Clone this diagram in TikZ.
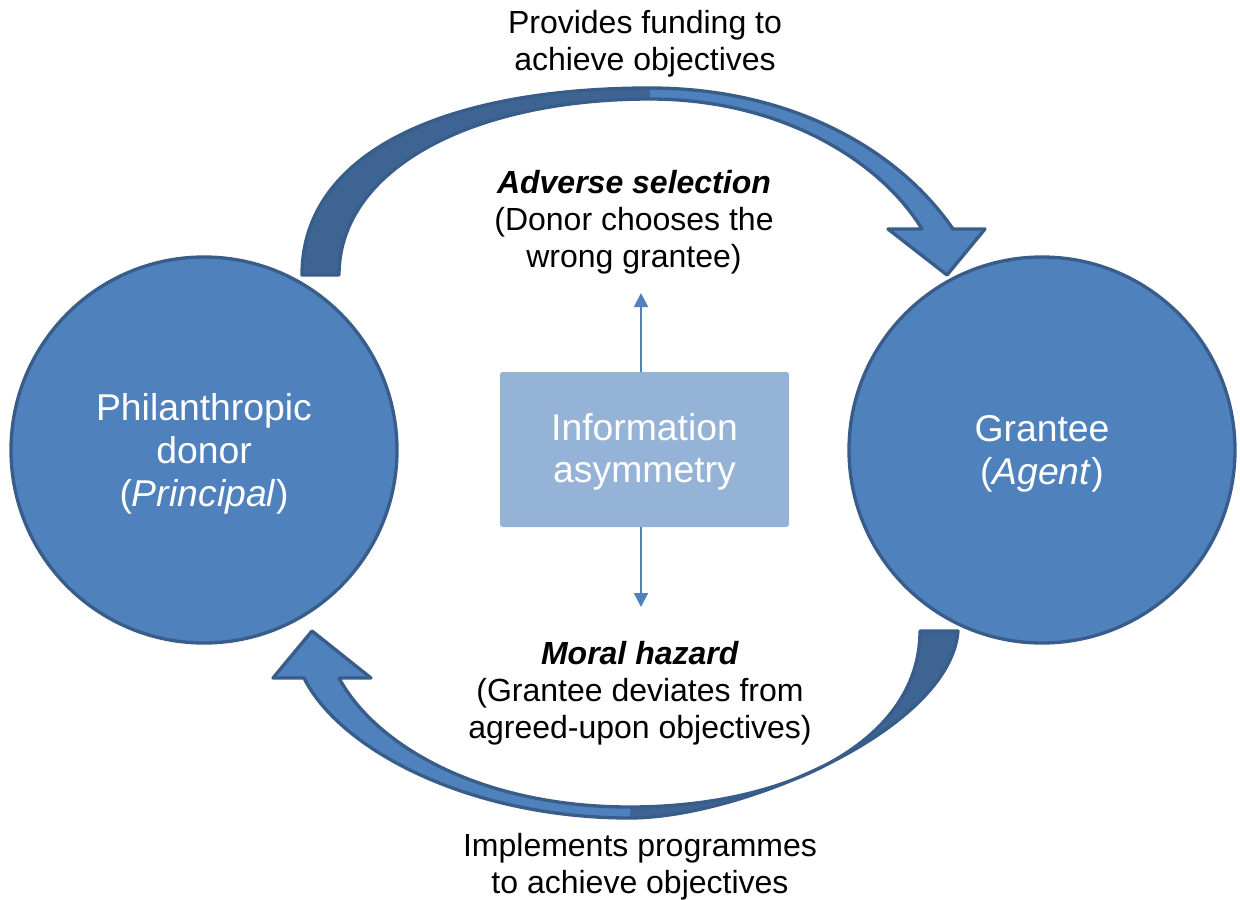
\documentclass[tikz,border=0pt]{standalone}
\usepackage{fontspec}
\setmainfont{Liberation Sans}
\usetikzlibrary{arrows.meta}

\definecolor{circfill}{HTML}{4F81BD}
\definecolor{circline}{HTML}{385D8A}
\definecolor{shadefill}{HTML}{3E6494}
\definecolor{boxfill}{HTML}{95B3D7}

\begin{document}
\begin{tikzpicture}[x=0.75pt,y=0.75pt,yscale=-1,xscale=1,
    party/.style={circle,fill=circfill,draw=circline,line width=2.5pt,minimum size=289.5pt,
      inner sep=0pt,text depth=0pt,text=white,align=center,font=\fontsize{28}{32.6}\selectfont},
    infobox/.style={rectangle,rounded corners=2pt,fill=boxfill,minimum width=216.75pt,
      minimum height=116.25pt,text depth=2pt,text=white,align=center,font=\fontsize{28}{31.5}\selectfont},
    label/.style={align=center,inner sep=0pt,font=\fontsize{24}{27.6}\selectfont},
    bandline/.style={draw=circline,line width=2.5pt,line join=round},
    infoarrow/.style={draw=circfill,line width=1.5pt,-{Triangle[width=10.5pt,length=10.5pt]}}]
    \path[use as bounding box] (0,0) rectangle (1240,900);

    %Shape: Circle [donor]
    \node[party] (donor) at (204,450) {Philanthropic\\donor\\(\textit{Principal})};
    %Shape: Circle [grantee]
    \node[party] (grantee) at (1042,450) {Grantee\\(\textit{Agent})};
    %Shape: Rectangle [information asymmetry]
    \node[infobox] (info) at (644.5,449.5) {Information\\asymmetry};

    %Curved Arrow: funding (top)
    \fill[shadefill] (302,275) .. controls (302,150) and (450,88) .. (650,88) -- (650,99) .. controls (470,99) and (339,170) .. (339,275) -- cycle ;
    \fill[circfill] (650,88) .. controls (785,88) and (895,145) .. (953,229) -- (985,229) -- (947,275) -- (888,229) -- (922,229) .. controls (880,160) and (780,99) .. (650,99) -- cycle ;
    \path[bandline] (302,275) .. controls (302,150) and (450,88) .. (650,88) .. controls (785,88) and (895,145) .. (953,229) -- (985,229) -- (947,275) -- (888,229) -- (922,229) .. controls (880,160) and (780,99) .. (650,99) .. controls (470,99) and (339,170) .. (339,275) -- cycle ;

    %Curved Arrow: programmes (bottom)
    \fill[shadefill] (958,631) .. controls (950,730) and (740,818) .. (630,818) -- (630,807) .. controls (790,807) and (920,740) .. (920,631) -- cycle ;
    \fill[circfill] (630,818) .. controls (470,818) and (340,750) .. (304,678) -- (273,678) -- (312,631) -- (371,678) -- (339,678) .. controls (375,745) and (480,807) .. (630,807) -- cycle ;
    \path[bandline] (958,631) .. controls (950,730) and (740,818) .. (630,818) .. controls (470,818) and (340,750) .. (304,678) -- (273,678) -- (312,631) -- (371,678) -- (339,678) .. controls (375,745) and (480,807) .. (630,807) .. controls (790,807) and (920,740) .. (920,631) -- cycle ;

    %Straight Arrows from the box
    \coordinate (advtip) at (641,293);
    \coordinate (mortip) at (641,607);
    \draw[infoarrow] (info.north -| advtip) -- (advtip) ;
    \draw[infoarrow] (info.south -| mortip) -- (mortip) ;

    % Text Node
    \node[label] (funding) at (645,44) {Provides funding to\\achieve objectives};
    % Text Node
    \node[label] (adverse) at (634,222.5) {\textbf{\textit{Adverse selection}}\\(Donor chooses the\\wrong grantee)};
    % Text Node
    \node[label] (moral) at (640,693.5) {\textbf{\textit{Moral hazard}}\\(Grantee deviates from\\agreed-upon objectives)};
    % Text Node
    \node[label] (implements) at (640,867) {Implements programmes\\to achieve objectives};
\end{tikzpicture}
\end{document}
